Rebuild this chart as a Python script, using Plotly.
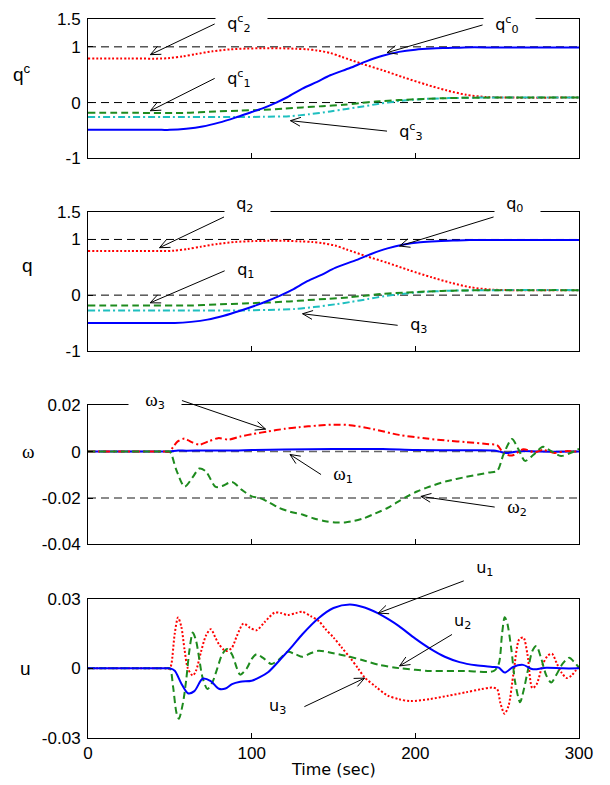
import math
import plotly.graph_objects as go

# ---------------- commanded quaternion q^c ----------------
t_qc0 = [0, 25, 45, 50, 60, 70, 80, 90, 100, 107, 115, 122, 131, 140, 148, 160, 170, 180, 190, 200, 210, 220, 230, 250, 300]
qc0 = [-0.49, -0.49, -0.49, -0.49, -0.47, -0.43, -0.36, -0.27, -0.17, -0.10, 0.0, 0.10, 0.25, 0.37, 0.49, 0.62, 0.74, 0.84, 0.91, 0.95, 0.97, 0.98, 0.99, 0.99, 0.99]
t_qc1 = [0, 30, 60, 78, 92, 107, 120, 131, 143, 156, 166, 176, 190, 205, 220, 240, 300]
qc1 = [-0.185, -0.185, -0.185, -0.16, -0.145, -0.13, -0.11, -0.087, -0.065, -0.04, -0.01, 0.02, 0.045, 0.066, 0.08, 0.088, 0.09]
t_qc2 = [0, 25, 45, 50, 58, 66, 76, 87, 97, 107, 117, 127, 134, 140, 148, 155, 167, 180, 193, 207, 219, 231, 243, 255, 300]
qc2 = [0.79, 0.79, 0.79, 0.80, 0.83, 0.87, 0.92, 0.955, 0.97, 0.975, 0.975, 0.965, 0.955, 0.935, 0.89, 0.82, 0.70, 0.58, 0.45, 0.32, 0.22, 0.14, 0.10, 0.09, 0.09]
t_qc3 = [0, 45, 90, 107, 123, 135, 148, 158, 168, 178, 188, 198, 208, 220, 235, 250, 300]
qc3 = [-0.26, -0.26, -0.26, -0.255, -0.245, -0.21, -0.16, -0.115, -0.07, -0.02, 0.02, 0.05, 0.068, 0.08, 0.088, 0.09, 0.09]

# ---------------- actual quaternion q ----------------
t_q0 = [0, 25, 48, 53, 63, 73, 83, 93, 103, 110, 118, 125, 134, 143, 151, 163, 173, 183, 193, 203, 213, 223, 233, 253, 300]
q0 = [-0.50, -0.50, -0.50, -0.50, -0.48, -0.44, -0.37, -0.28, -0.18, -0.10, 0.0, 0.10, 0.25, 0.37, 0.49, 0.62, 0.74, 0.84, 0.91, 0.95, 0.97, 0.98, 0.99, 0.99, 0.99]
t_q1 = [0, 30, 63, 81, 95, 110, 123, 134, 146, 159, 169, 179, 193, 208, 223, 243, 300]
q1 = [-0.186, -0.186, -0.186, -0.165, -0.15, -0.133, -0.112, -0.09, -0.066, -0.04, -0.01, 0.02, 0.045, 0.066, 0.08, 0.088, 0.09]
t_q2 = [0, 25, 48, 53, 61, 69, 79, 90, 100, 110, 120, 130, 137, 143, 151, 158, 170, 183, 196, 210, 222, 234, 246, 258, 300]
q2 = [0.793, 0.793, 0.793, 0.80, 0.83, 0.87, 0.92, 0.955, 0.97, 0.975, 0.975, 0.965, 0.955, 0.935, 0.89, 0.82, 0.70, 0.58, 0.45, 0.32, 0.22, 0.14, 0.10, 0.09, 0.09]
t_q3 = [0, 45, 93, 110, 126, 138, 151, 161, 171, 181, 191, 201, 211, 223, 238, 253, 300]
q3 = [-0.275, -0.275, -0.275, -0.265, -0.25, -0.215, -0.165, -0.12, -0.07, -0.02, 0.02, 0.05, 0.068, 0.08, 0.088, 0.09, 0.09]

# ---------------- angular rate omega ----------------
t_w1 = [0, 20, 40, 47, 50, 55, 60, 70, 80, 90, 100, 120, 150, 180, 200, 230, 248, 252, 256, 260, 265, 275, 300]
w1 = [0, 0, 0, 0, 0, 0.0005, 0.0004, 0.0005, 0.0005, 0.0005, 0.0007, 0.0009, 0.0011, 0.0011, 0.0007, 0.0006, 0.0005, -0.0001, -0.0006, -0.0002, 0.0002, 0.0, 0.0]
t_w2 = [0, 20, 40, 47, 50, 54, 59, 64, 68, 72, 78, 82, 88, 94, 100, 105, 111, 117, 124, 131, 138, 145, 151, 157, 163, 169, 176, 183, 189, 195, 201, 207, 219, 231, 245, 250, 254, 259, 263, 267, 272, 278, 283, 289, 295, 300]
w2 = [0, 0, 0, 0, 0, -0.008, -0.0151, -0.011, -0.0073, -0.0085, -0.0152, -0.0148, -0.0131, -0.0165, -0.0193, -0.020, -0.022, -0.0243, -0.026, -0.0271, -0.0288, -0.030, -0.0305, -0.0305, -0.0298, -0.0286, -0.0265, -0.0243, -0.0218, -0.0193, -0.0172, -0.0155, -0.0128, -0.0109, -0.009, -0.0083, -0.001, 0.0054, 0.001, -0.0040, -0.0015, 0.0021, 0.0002, -0.0019, -0.0005, 0.0012]
t_w3 = [0, 20, 40, 47, 50, 52, 55, 59, 63, 68, 74, 79.5, 86, 93, 101, 110, 120, 129, 140, 150, 160, 174, 190, 207, 220, 231, 245, 250, 254, 259, 266, 273, 278, 285, 292, 300]
w3 = [0, 0, 0, 0, 0, 0.002, 0.0045, 0.0056, 0.0042, 0.003, 0.0045, 0.0058, 0.0052, 0.0065, 0.0076, 0.0087, 0.0098, 0.0105, 0.0112, 0.0116, 0.0114, 0.0097, 0.0072, 0.0056, 0.0047, 0.0041, 0.0032, 0.0028, -0.0008, -0.0017, 0.0010, -0.0003, 0.0007, -0.0006, 0.0002, -0.0001]

# ---------------- control torque u ----------------
t_u1 = [0, 20, 40, 47, 50, 53, 57, 61, 65, 70, 75, 80, 84, 88, 93, 100, 105, 110, 119, 125, 131, 141, 150, 160, 169, 177, 184, 190, 200, 209, 218, 227, 237, 247, 251, 254.6, 259.7, 265.8, 271.9, 280, 290, 300]
u1 = [0, 0, 0, 0, 0, -0.001, -0.0065, -0.0107, -0.0098, -0.0045, -0.0055, -0.0088, -0.0087, -0.0068, -0.0058, -0.0053, -0.0038, -0.0017, 0.005, 0.0097, 0.0147, 0.0217, 0.026, 0.0275, 0.0262, 0.0238, 0.021, 0.0182, 0.0128, 0.0085, 0.005, 0.0027, 0.0013, 0.0006, 0.0003, -0.0018, 0.0006, 0.0015, -0.0004, 0.0003, 0.0, 0.0]
t_u2 = [0, 20, 40, 47, 50, 52, 54, 55.5, 58, 60, 62, 64, 66, 68, 70, 73, 76, 79, 82, 85, 88, 91, 93, 97, 100, 103, 107, 112, 117, 122, 127, 131, 136, 141, 150, 160, 168, 178, 190, 209, 230, 248, 251, 253, 254.6, 256, 258.7, 261, 264, 266, 269, 271.5, 274, 277, 280, 283, 286, 290, 294, 297, 300]
u2 = [0, 0, 0, 0, 0, -0.008, -0.019, -0.0217, -0.015, -0.005, 0.008, 0.0154, 0.012, 0.004, -0.004, -0.0089, -0.006, 0.0, 0.006, 0.0083, 0.006, 0.0, -0.0027, 0.0, 0.004, 0.0061, 0.0045, 0.0019, 0.004, 0.0071, 0.006, 0.005, 0.0065, 0.0076, 0.0065, 0.005, 0.0035, 0.0015, 0.0001, -0.0011, -0.0011, -0.0011, 0.002, 0.015, 0.022, 0.020, 0.008, -0.006, -0.0146, -0.010, 0.0, 0.0075, 0.0096, 0.004, -0.003, -0.0061, -0.003, 0.002, 0.0046, 0.0028, 0.0003]
t_u3 = [0, 20, 40, 47, 50, 51, 53, 55, 57, 59, 61, 64, 66, 69, 72, 75, 78, 80, 83, 85, 88, 91, 95, 99, 103, 108, 114, 118, 122, 127, 131, 136, 141, 145, 150, 155, 160, 165, 169, 176, 183, 190, 197, 209, 220, 231, 240, 247, 250, 252, 254.5, 257, 260, 263.5, 266, 268.5, 271.5, 274, 278, 281, 283.5, 286.5, 289.5, 292.5, 295.5, 300]
u3 = [0, 0, 0, 0, 0, 0.002, 0.015, 0.0219, 0.018, 0.008, 0.0, -0.0031, -0.001, 0.007, 0.014, 0.0169, 0.013, 0.0104, 0.008, 0.0075, 0.009, 0.014, 0.0193, 0.0175, 0.0164, 0.020, 0.024, 0.0238, 0.023, 0.0238, 0.0244, 0.0225, 0.0204, 0.017, 0.0133, 0.009, 0.0047, 0.0, -0.0039, -0.008, -0.0117, -0.0133, -0.0141, -0.0132, -0.0118, -0.0103, -0.009, -0.0083, -0.009, -0.015, -0.0196, -0.016, -0.002, 0.0125, 0.0133, 0.006, -0.0085, -0.007, 0.002, 0.0055, 0.0063, 0.002, -0.002, -0.0042, -0.003, 0.001]

# axis tick labels
x_ticks = [0, 100, 200, 300]
q_ticks = [-1, 0, 1, 1.5]
q_ticktext = ["-1", "0", "1", "1.5"]
w_ticks = [-0.04, -0.02, 0, 0.02]
w_ticktext = ["-0.04", "-0.02", "0", "0.02"]
u_ticks = [-0.03, 0, 0.03]
u_ticktext = ["-0.03", "0", "0.03"]

BLUE = "#0000FF"
GREEN = "#1E8B1E"
RED = "#FF0000"
CYAN = "#1FBFBF"
TICK_FONT = dict(family="Liberation Sans, Arial, sans-serif", size=17, color="black")
LABEL_FONT = dict(family="DejaVu Sans, sans-serif", size=16, color="black")

SOLID = dict(color=BLUE, width=2, dash="solid")
DASHED = dict(color=GREEN, width=2, dash="7px,4px")
DOTTED = dict(color=RED, width=2, dash="2px,2px")
DASHDOT = dict(color=CYAN, width=2, dash="7px,3px,2px,3px")
RED_DASHDOT = dict(color=RED, width=2, dash="7px,3px,2px,3px")

FIG_W, FIG_H = 610, 785
MARGIN = dict(l=88, r=31, t=10, b=47)
PLOT_W = FIG_W - MARGIN["l"] - MARGIN["r"]
PLOT_H = FIG_H - MARGIN["t"] - MARGIN["b"]
X_RANGE = [0, 300]

fig = go.Figure()


def add_line(t, v, style, n):
    ax = "" if n == 1 else str(n)
    fig.add_trace(go.Scatter(
        x=t, y=v, mode="lines", xaxis="x" + ax, yaxis="y" + ax,
        line=dict(shape="spline", smoothing=0.8, **style),
        showlegend=False, hoverinfo="skip"))


# panel 1: q^c
add_line(t_qc2, qc2, DOTTED, 1)
add_line(t_qc3, qc3, DASHDOT, 1)
add_line(t_qc1, qc1, DASHED, 1)
add_line(t_qc0, qc0, SOLID, 1)
# panel 2: q
add_line(t_q2, q2, DOTTED, 2)
add_line(t_q3, q3, DASHDOT, 2)
add_line(t_q1, q1, DASHED, 2)
add_line(t_q0, q0, SOLID, 2)
# panel 3: omega
add_line(t_w1, w1, SOLID, 3)
add_line(t_w3, w3, RED_DASHDOT, 3)
add_line(t_w2, w2, DASHED, 3)
# panel 4: u
add_line(t_u3, u3, DOTTED, 4)
add_line(t_u2, u2, DASHED, 4)
add_line(t_u1, u1, SOLID, 4)

# vertical layout of the four panels (paper fractions)
domains = [[0.8063, 1.0], [0.5385, 0.7321], [0.2692, 0.4629], [0.0, 0.1937]]
ranges = [[-1, 1.5], [-1, 1.5], [-0.04, 0.02], [-0.03, 0.03]]
ytick_sets = [(q_ticks, q_ticktext), (q_ticks, q_ticktext), (w_ticks, w_ticktext), (u_ticks, u_ticktext)]

layout = dict(
    width=FIG_W, height=FIG_H, margin=MARGIN,
    paper_bgcolor="white", plot_bgcolor="white",
    showlegend=False,
)
for i in range(4):
    n = "" if i == 0 else str(i + 1)
    layout["xaxis" + n] = dict(
        domain=[0, 1], anchor="y" + n, range=X_RANGE,
        tickvals=x_ticks, ticktext=[str(v) for v in x_ticks],
        showticklabels=(i == 3), ticks="inside", ticklen=5, tickcolor="black",
        showline=True, linecolor="black", linewidth=1, mirror=True,
        showgrid=False, zeroline=False, tickfont=TICK_FONT,
    )
    layout["yaxis" + n] = dict(
        domain=domains[i], anchor="x" + n, range=ranges[i],
        tickvals=ytick_sets[i][0], ticktext=ytick_sets[i][1],
        ticks="inside", ticklen=5, tickcolor="black",
        showline=True, linecolor="black", linewidth=1, mirror=True,
        showgrid=False, zeroline=False, tickfont=TICK_FONT,
        ticklabelstandoff=3,
    )
fig.update_layout(**layout)

# dashed reference levels
ref_levels = [(1, "", "black", 1), (0, "", "black", 1), (1, "2", "black", 1), (0, "2", "black", 1),
              (0, "3", "#666666", 1.5), (-0.02, "3", "#666666", 1.5)]
for lvl, n, col, w in ref_levels:
    fig.add_shape(type="line", xref="x" + n, yref="y" + n, x0=0, x1=300, y0=lvl, y1=lvl,
                  line=dict(color=col, width=w, dash="8px,5px"), layer="below")

SP = "\u00a0"
HEAD_LEN = 11      # px, length of each barb of the open arrowhead
HEAD_ANGLE = 24    # deg, half-opening of the arrowhead


def open_head(n, tip, tail):
    """Two thin barbs at the tip, drawn as line shapes in the panel's data units."""
    ax = "" if n == 1 else str(n)
    sx = PLOT_W / (X_RANGE[1] - X_RANGE[0])
    lo, hi = ranges[n - 1]
    d0, d1 = domains[n - 1]
    sy = (d1 - d0) * PLOT_H / (hi - lo)
    dx = (tail[0] - tip[0]) * sx
    dy = (tail[1] - tip[1]) * sy
    L = math.hypot(dx, dy)
    ux, uy = dx / L, dy / L
    for sgn in (1, -1):
        a = math.radians(HEAD_ANGLE) * sgn
        rx = ux * math.cos(a) - uy * math.sin(a)
        ry = ux * math.sin(a) + uy * math.cos(a)
        fig.add_shape(type="line", xref="x" + ax, yref="y" + ax,
                      x0=tip[0], y0=tip[1],
                      x1=tip[0] + rx * HEAD_LEN / sx, y1=tip[1] + ry * HEAD_LEN / sy,
                      line=dict(color="black", width=1))


def pointer(n, tip, tail, text, side="left", valign="middle", pad_l=2, pad_r=0, white=False):
    """Label whose arrow runs from the label's edge (tail) to the curve (tip)."""
    ax = "" if n == 1 else str(n)
    fig.add_annotation(
        x=tip[0], y=tip[1], xref="x" + ax, yref="y" + ax,
        ax=tail[0], ay=tail[1], axref="x" + ax, ayref="y" + ax,
        text=SP * pad_l + text + SP * pad_r,
        xanchor=side, yanchor=valign,
        showarrow=True, arrowhead=0, arrowwidth=1,
        arrowcolor="black", standoff=0, borderpad=1,
        bgcolor="white" if white else "rgba(0,0,0,0)",
        font=LABEL_FONT)
    open_head(n, tip, tail)


W = "<span style='font-family:Liberation Serif, serif; font-size:19px'>\u03c9</span>"

# panel 1 labels
pointer(1, (38.1, 0.86), (77.4, 1.411), "q<sup>c</sup><sub>2</sub>", pad_r=3, white=True)
pointer(1, (182.7, 0.896), (241.1, 1.393), "q<sup>c</sup><sub>0</sub>", pad_r=3, white=True)
pointer(1, (38.1, -0.147), (77.4, 0.434), "q<sup>c</sup><sub>1</sub>")
pointer(1, (123.7, -0.325), (182.7, -0.513), "q<sup>c</sup><sub>3</sub>")

# panel 2 labels
pointer(2, (43.7, 0.852), (83.1, 1.404), "q<sub>2</sub>", valign="bottom", pad_r=3, white=True)
pointer(2, (190.4, 0.882), (247.8, 1.404), "q<sub>0</sub>", valign="bottom", pad_r=3, white=True)
pointer(2, (38.0, -0.138), (83.5, 0.437), "q<sub>1</sub>")
pointer(2, (131.1, -0.334), (189.2, -0.542), "q<sub>3</sub>")

# panel 3 labels
pointer(3, (108.5, 0.00968), (57.4, 0.022), W + "<sub>3</sub>", side="right", pad_l=3, pad_r=3, white=True)
pointer(3, (123.4, -0.00123), (142.4, -0.00989), W + "<sub>1</sub>")
pointer(3, (203.4, -0.0193), (248.5, -0.0239), W + "<sub>2</sub>")

# panel 4 labels
pointer(4, (177.3, 0.0238), (229.6, 0.0377), "u<sub>1</sub>", valign="bottom")
pointer(4, (190.4, 0.00105), (222.4, 0.0146), "u<sub>2</sub>", valign="bottom", pad_l=0)
pointer(4, (169.0, -0.0042), (132.2, -0.0165), "u<sub>3</sub>", side="right", pad_l=0, pad_r=3)

# horizontal y-axis names and x-axis title
YNAME_FONT = dict(family="Liberation Sans, Arial, sans-serif", size=19, color="black")
for px, py, txt in [(-0.135, 0.9245, "q<sup>c</sup>"), (-0.123, 0.657, "q"),
                    (-0.121, 0.3984, "<span style='font-family:Liberation Serif, serif'>\u03c9</span>"),
                    (-0.127, 0.0962, "u")]:
    fig.add_annotation(x=px, y=py, xref="paper", yref="paper", text=txt, showarrow=False,
                       xanchor="center", yanchor="middle", font=YNAME_FONT)
fig.add_annotation(x=0.5, y=-0.044, xref="paper", yref="paper", text="Time (sec)",
                   showarrow=False, xanchor="center", yanchor="middle",
                   font=dict(family="DejaVu Sans, sans-serif", size=16, color="black"))

fig.write_html("out.html")
